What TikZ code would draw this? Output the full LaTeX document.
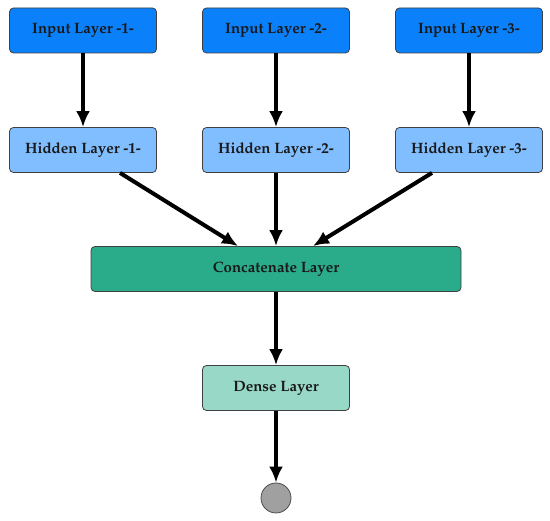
\documentclass[tikz,border=0pt]{standalone}
\usepackage[T1]{fontenc}
\usepackage{mathpazo}
\usetikzlibrary{arrows.meta,calc}
\definecolor{inblue}{RGB}{10,128,250}
\definecolor{hidblue}{RGB}{128,190,255}
\definecolor{concat}{RGB}{42,172,138}
\definecolor{dense}{RGB}{152,216,198}
\definecolor{outgray}{RGB}{160,160,160}
\tikzset{
  layerbox/.style={draw=black!75, line width=0.8pt, rounded corners=4pt, minimum width=147pt, minimum height=45pt, inner sep=0pt, font=\fontsize{15}{17}\selectfont\bfseries, text=black!90},
  conn/.style={line width=4pt, -{Latex[length=16pt,width=14pt]}}
}
\begin{document}
\begin{tikzpicture}[x=1pt,y=-1pt]
\useasboundingbox (0,0) rectangle (550,521);
\node[layerbox, fill=inblue] (i1) at (83,30.5) {Input Layer -1-};
\node[layerbox, fill=inblue] (i2) at (276,30.5) {Input Layer -2-};
\node[layerbox, fill=inblue] (i3) at (469,30.5) {Input Layer -3-};
\node[layerbox, fill=hidblue] (h1) at (83,150) {Hidden Layer -1-};
\node[layerbox, fill=hidblue] (h2) at (276,150) {Hidden Layer -2-};
\node[layerbox, fill=hidblue] (h3) at (469,150) {Hidden Layer -3-};
\node[layerbox, fill=concat, minimum width=370pt] (c) at (276,269) {Concatenate Layer};
\node[layerbox, fill=dense] (d) at (276,388) {Dense Layer};
\node[circle, draw=black!70, line width=0.8pt, fill=outgray, minimum size=30pt, inner sep=0pt] (o) at (276,498) {};
\coordinate (h1b) at ($(h1.south)+(37,0)$);
\coordinate (h3b) at ($(h3.south)+(-37,0)$);
\coordinate (ca) at ($(c.north)+(-38,0)$);
\coordinate (cb) at ($(c.north)+(37,0)$);
\draw[conn] (i1) -- (h1);
\draw[conn] (i2) -- (h2);
\draw[conn] (i3) -- (h3);
\draw[conn] (h1b) -- (ca);
\draw[conn] (h2) -- (c);
\draw[conn] (h3b) -- (cb);
\draw[conn] (c) -- (d);
\draw[conn] (d) -- (o);
\end{tikzpicture}
\end{document}
